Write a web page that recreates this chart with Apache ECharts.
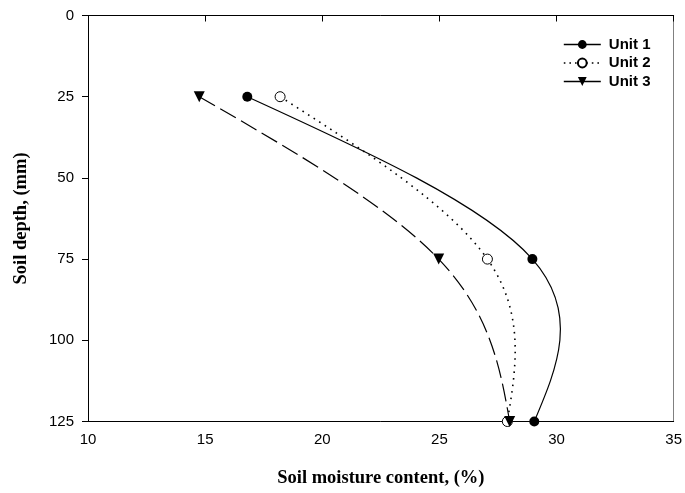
<!DOCTYPE html>
<html><head><meta charset="utf-8">
<script src="https://cdn.jsdelivr.net/npm/echarts@6/dist/echarts.min.js"></script>
<style>html,body{margin:0;padding:0;background:#fff}#c{width:685px;height:493px}</style>
</head><body><div id="c"></div>
<script>
const depths = [25, 75, 125];
const unit1 = [16.8, 28.97, 29.05];
const unit2 = [18.2, 27.05, 27.9];
const unit3 = [14.75, 24.97, 28.0];
const seriesNames = ['Unit 1', 'Unit 2', 'Unit 3'];
const xTicks = {min: 10, max: 35, interval: 5};
const yTicks = {min: 0, max: 125, interval: 25};

const pts = arr => arr.map((v, i) => [v, depths[i]]);

// natural cubic spline of moisture as a function of depth -> bezier segments (data space)
function splineSegments(xs, ys) {
  const n = xs.length;
  const h = [];
  for (let i = 0; i < n - 1; i++) h.push(ys[i + 1] - ys[i]);
  const M = new Array(n).fill(0);
  if (n > 2) {
    const a = [], b = [], c = [], d = [];
    for (let i = 1; i < n - 1; i++) {
      a.push(h[i - 1]); b.push(2 * (h[i - 1] + h[i])); c.push(h[i]);
      d.push(6 * ((xs[i + 1] - xs[i]) / h[i] - (xs[i] - xs[i - 1]) / h[i - 1]));
    }
    const m = b.length;
    for (let i = 1; i < m; i++) {
      const w = a[i] / b[i - 1];
      b[i] -= w * c[i - 1]; d[i] -= w * d[i - 1];
    }
    const sol = new Array(m);
    sol[m - 1] = d[m - 1] / b[m - 1];
    for (let i = m - 2; i >= 0; i--) sol[i] = (d[i] - c[i] * sol[i + 1]) / b[i];
    for (let i = 0; i < m; i++) M[i + 1] = sol[i];
  }
  const segs = [];
  for (let i = 0; i < n - 1; i++) {
    const s = (xs[i + 1] - xs[i]) / h[i];
    const d0 = s - h[i] * (2 * M[i] + M[i + 1]) / 6;
    const d1 = s + h[i] * (M[i] + 2 * M[i + 1]) / 6;
    segs.push({
      p0: [xs[i], ys[i]],
      c1: [xs[i] + d0 * h[i] / 3, ys[i] + h[i] / 3],
      c2: [xs[i + 1] - d1 * h[i] / 3, ys[i + 1] - h[i] / 3],
      p1: [xs[i + 1], ys[i + 1]]
    });
  }
  return segs;
}

function curveSeries(values, lineStyle) {
  const segs = splineSegments(values, depths);
  return {
    type: 'custom', z: 2, silent: true,
    data: [[values[0], depths[0]]],
    renderItem: function (params, api) {
      let d = '';
      segs.forEach((s, i) => {
        const p0 = api.coord(s.p0), c1 = api.coord(s.c1), c2 = api.coord(s.c2), p1 = api.coord(s.p1);
        if (i === 0) d += 'M' + p0[0] + ' ' + p0[1];
        d += ' C' + c1[0] + ' ' + c1[1] + ' ' + c2[0] + ' ' + c2[1] + ' ' + p1[0] + ' ' + p1[1];
      });
      return {type: 'path', shape: {pathData: d},
        style: Object.assign({fill: null, stroke: '#000'}, lineStyle)};
    }
  };
}

const styles = [
  {lineWidth: 1.2, lineDash: null},
  {lineWidth: 1.6, lineDash: [1.6, 5]},
  {lineWidth: 1.2, lineDash: [18, 6]}
];

const chart = echarts.init(document.getElementById('c'));
const axisName = {fontFamily: 'Liberation Serif', fontWeight: 'bold', fontSize: 18.5, color: '#000'};
const tickLabel = {fontFamily: 'Liberation Sans', fontSize: 15, color: '#000'};
chart.setOption({
  animation: false,
  grid: {left: 88, right: 11, top: 15.5, bottom: 71.5, show: false},
  legend: {
    orient: 'vertical', left: 563, top: 37, padding: 0, itemWidth: 37, itemHeight: 11, itemGap: 3.5,
    textStyle: {fontFamily: 'Liberation Sans', fontWeight: 'bold', fontSize: 15, color: '#000', padding: [0, 0, 0, 3]},
    data: [
      {name: seriesNames[0], lineStyle: {opacity: 1, color: '#000', width: 1.6, type: 'solid'}},
      {name: seriesNames[1], lineStyle: {opacity: 1, color: '#000', width: 1.6, type: [1.6, 4]}},
      {name: seriesNames[2], lineStyle: {opacity: 1, color: '#000', width: 1.6, type: 'solid'}}
    ]
  },
  xAxis: [{
    type: 'value', min: xTicks.min, max: xTicks.max, interval: xTicks.interval,
    name: 'Soil moisture content, (%)', nameLocation: 'middle', nameGap: 47,
    nameTextStyle: axisName,
    axisLine: {lineStyle: {color: '#000', width: 1}}, axisTick: {lineStyle: {color: '#000'}, length: 6},
    axisLabel: Object.assign({margin: 11}, tickLabel),
    splitLine: {show: false}
  }, {
    type: 'value', position: 'top', min: xTicks.min, max: xTicks.max,
    axisLine: {show: true, lineStyle: {color: '#000', width: 1}}, axisTick: {show: false},
    axisLabel: {show: false}, splitLine: {show: false}
  }],
  yAxis: [{
    type: 'value', min: yTicks.min, max: yTicks.max, interval: yTicks.interval, inverse: true,
    name: 'Soil depth, (mm)', nameLocation: 'middle', nameGap: 57, nameRotate: 90,
    nameTextStyle: axisName,
    axisLine: {lineStyle: {color: '#000', width: 1}}, axisTick: {lineStyle: {color: '#000'}, length: 6},
    axisLabel: Object.assign({margin: 14}, tickLabel),
    splitLine: {show: false}
  }, {
    type: 'value', position: 'right', min: yTicks.min, max: yTicks.max,
    axisLine: {show: true, lineStyle: {color: '#808080', width: 1}}, axisTick: {show: false},
    axisLabel: {show: false}, splitLine: {show: false}
  }],
  series: [
    curveSeries(unit1, styles[0]),
    curveSeries(unit2, styles[1]),
    curveSeries(unit3, styles[2]),
    {name: seriesNames[0], type: 'line', z: 3, data: pts(unit1),
     symbol: 'circle', symbolSize: 10, itemStyle: {color: '#000'}, lineStyle: {opacity: 0}},
    {name: seriesNames[1], type: 'line', z: 3, data: pts(unit2),
     symbol: 'circle', symbolSize: 10, itemStyle: {color: '#fff', borderColor: '#000', borderWidth: 1}, lineStyle: {opacity: 0}},
    {name: seriesNames[2], type: 'line', z: 3, data: pts(unit3),
     symbol: 'triangle', symbolRotate: 180, symbolSize: 11, itemStyle: {color: '#000'}, lineStyle: {opacity: 0}}
  ]
});
</script></body></html>
